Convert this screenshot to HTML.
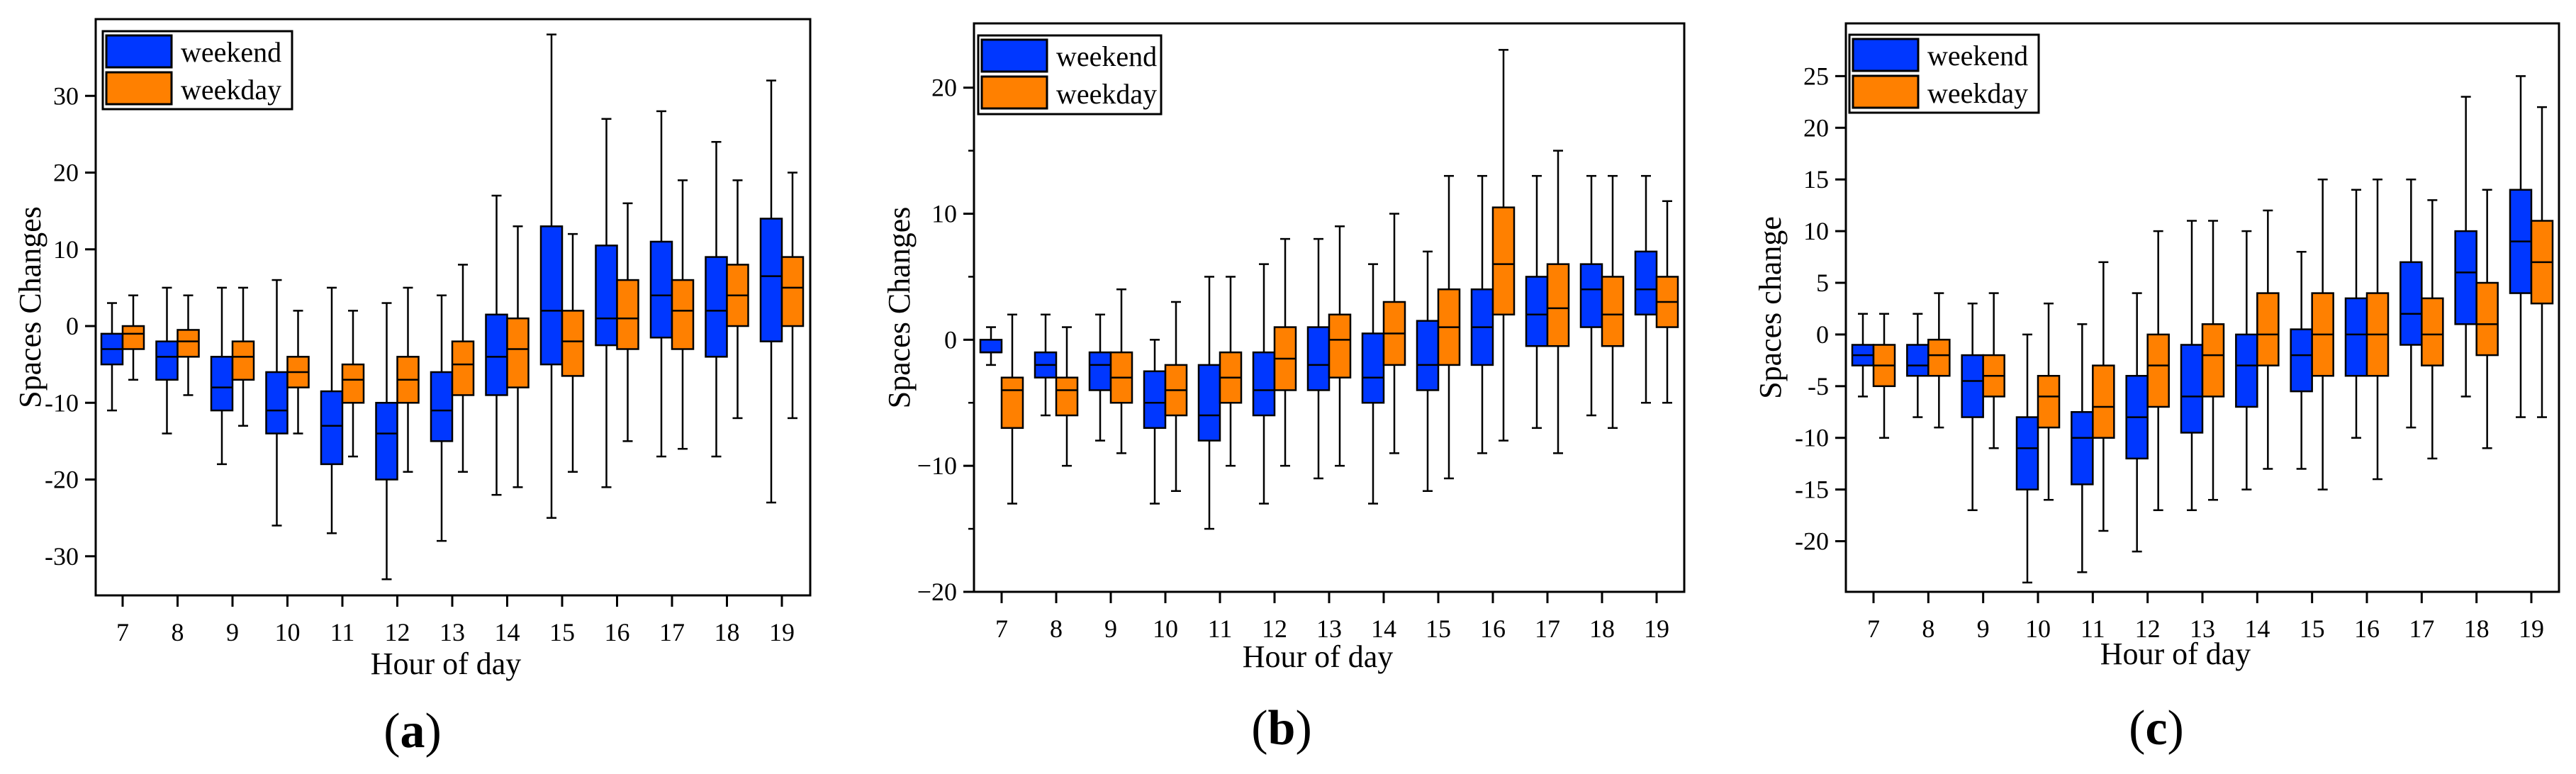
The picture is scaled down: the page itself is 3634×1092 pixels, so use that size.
<!DOCTYPE html>
<html><head><meta charset="utf-8"><style>
html,body{margin:0;padding:0;background:#fff}
svg{display:block}
text{font-family:"Liberation Serif",serif;fill:#000}
</style></head><body>
<svg id="fig" width="3634" height="1092" viewBox="0 0 3634 1092" xmlns="http://www.w3.org/2000/svg"></svg>
<script>
const hours = [7,8,9,10,11,12,13,14,15,16,17,18,19];
// panel a : [whiskerHigh, q3, median, q1, whiskerLow]
const aWeekend = [[3,-1,-3,-5,-11],[5,-2,-4,-7,-14],[5,-4,-8,-11,-18],[6,-6,-11,-14,-26],[5,-8.5,-13,-18,-27],[3,-10,-14,-20,-33],[4,-6,-11,-15,-28],[17,1.5,-4,-9,-22],[38,13,2,-5,-25],[27,10.5,1,-2.5,-21],[28,11,4,-1.5,-17],[24,9,2,-4,-17],[32,14,6.5,-2,-23]];
const aWeekday = [[4,0,-1,-3,-7],[4,-0.5,-2,-4,-9],[5,-2,-4,-7,-13],[2,-4,-6,-8,-14],[2,-5,-7,-10,-17],[5,-4,-7,-10,-19],[8,-2,-5,-9,-19],[13,1,-3,-8,-21],[12,2,-2,-6.5,-19],[16,6,1,-3,-15],[19,6,2,-3,-16],[19,8,4,0,-12],[20,9,5,0,-12]];
const bWeekend = [[1,0,-1,-1,-2],[2,-1,-2,-3,-6],[2,-1,-2,-4,-8],[0,-2.5,-5,-7,-13],[5,-2,-6,-8,-15],[6,-1,-4,-6,-13],[8,1,-2,-4,-11],[6,0.5,-3,-5,-13],[7,1.5,-2,-4,-12],[13,4,1,-2,-9],[13,5,2,-0.5,-7],[13,6,4,1,-6],[13,7,4,2,-5]];
const bWeekday = [[2,-3,-4,-7,-13],[1,-3,-4,-6,-10],[4,-1,-3,-5,-9],[3,-2,-4,-6,-12],[5,-1,-3,-5,-10],[8,1,-1.5,-4,-10],[9,2,0,-3,-10],[10,3,0.5,-2,-9],[13,4,1,-2,-11],[23,10.5,6,2,-8],[15,6,2.5,-0.5,-9],[13,5,2,-0.5,-7],[11,5,3,1,-5]];
const cWeekend = [[2,-1,-2,-3,-6],[2,-1,-3,-4,-8],[3,-2,-4.5,-8,-17],[0,-8,-11,-15,-24],[1,-7.5,-10,-14.5,-23],[4,-4,-8,-12,-21],[11,-1,-6,-9.5,-17],[10,0,-3,-7,-15],[8,0.5,-2,-5.5,-13],[14,3.5,0,-4,-10],[15,7,2,-1,-9],[23,10,6,1,-6],[25,14,9,4,-8]];
const cWeekday = [[2,-1,-3,-5,-10],[4,-0.5,-2,-4,-9],[4,-2,-4,-6,-11],[3,-4,-6,-9,-16],[7,-3,-7,-10,-19],[10,0,-3,-7,-17],[11,1,-2,-6,-16],[12,4,0,-3,-13],[15,4,0,-4,-15],[15,4,0,-4,-14],[13,3.5,0,-3,-12],[14,5,1,-2,-11],[22,11,7,3,-8]];
const aTicks = [-30,-20,-10,0,10,20,30];
const bTicks = [-20,-10,0,10,20];
const bMinor = [-15,-5,5,15];
const cTicks = [-20,-15,-10,-5,0,5,10,15,20,25];

const NS="http://www.w3.org/2000/svg";
const svg=document.getElementById('fig');
function el(tag,attrs,parent,txt){const e=document.createElementNS(NS,tag);for(const k in attrs)e.setAttribute(k,attrs[k]);if(txt!==undefined)e.textContent=txt;(parent||svg).appendChild(e);return e;}

const panels=[
 {id:'a',L:135,R:1143,T:27,B:840,ymin:-35.1,ymax:40,x7:173,x19:1103,ticks:aTicks,minor:[],wk:aWeekend,wd:aWeekday,ytitle:'Spaces Changes',ytx:43,xtx:629,xty:936,lx:582,ly:1030,leg:[145,44,267,110],minusStyle:'-'},
 {id:'b',L:1374,R:2376,T:33,B:835,ymin:-20,ymax:25.1,x7:1413,x19:2337,ticks:bTicks,minor:bMinor,wk:bWeekend,wd:bWeekday,ytitle:'Spaces Changes',ytx:1269,xtx:1859,xty:926,lx:1808,ly:1026,leg:[1380,50,258,111],minusStyle:'\u2212'},
 {id:'c',L:2604,R:3610,T:33,B:835,ymin:-24.9,ymax:30.1,x7:2643,x19:3571,ticks:cTicks,minor:[],wk:cWeekend,wd:cWeekday,ytitle:'Spaces change',ytx:2498,xtx:3069,xty:922,lx:3042,ly:1026,leg:[2609,49,267,110],minusStyle:'-'}
];
const BLUE='#0037ff', ORANGE='#ff8000';
panels.forEach(p=>{
  const g=el('g',{});
  
  
  const y=v=>p.B-(v-p.ymin)/(p.ymax-p.ymin)*(p.B-p.T);
  const x=i=>p.x7+(p.x19-p.x7)*(i)/(hours.length-1);
  // frame
  const fr=el('rect',{x:p.L,y:p.T,width:p.R-p.L,height:p.B-p.T,fill:'none',stroke:'#000','stroke-width':3},g);
  
  
  // y ticks
  p.ticks.forEach(t=>{
    el('line',{x1:p.L-15,x2:p.L,y1:y(t),y2:y(t),stroke:'#000','stroke-width':3},g);
    const lab=el('text',{x:p.L-24,y:y(t)+12,'font-size':36,'text-anchor':'end'},g,(t<0?p.minusStyle+Math.abs(t):String(t)));
    
    
  });
  p.minor.forEach(t=>{el('line',{x1:p.L-8,x2:p.L,y1:y(t),y2:y(t),stroke:'#000','stroke-width':2.5},g);});
  // x ticks
  hours.forEach((h,i)=>{
    el('line',{x1:x(i),x2:x(i),y1:p.B,y2:p.B+16,stroke:'#000','stroke-width':3},g);
    const lab=el('text',{x:x(i),y:p.B+64,'font-size':36,'text-anchor':'middle'},g,String(h));
    
    
  });
  // boxes
  const W=30;
  [[p.wk,BLUE,-W,'weekend'],[p.wd,ORANGE,0,'weekday']].forEach(([data,col,off,nm])=>{
    data.forEach((d,i)=>{
      const x0=x(i)+off, cx=x0+W/2;
      const bg=el('g',{},g);
      
      
      el('line',{x1:cx,x2:cx,y1:y(d[0]),y2:y(d[4]),stroke:'#000','stroke-width':2.5},bg);
      el('line',{x1:cx-7,x2:cx+7,y1:y(d[0]),y2:y(d[0]),stroke:'#000','stroke-width':2.5},bg);
      el('line',{x1:cx-7,x2:cx+7,y1:y(d[4]),y2:y(d[4]),stroke:'#000','stroke-width':2.5},bg);
      el('rect',{x:x0,y:y(d[1]),width:W,height:Math.max(1,y(d[3])-y(d[1])),fill:col,stroke:'#000','stroke-width':2.5},bg);
      el('line',{x1:x0,x2:x0+W,y1:y(d[2]),y2:y(d[2]),stroke:'#000','stroke-width':2.5},bg);
    });
  });
  // legend
  const [lx,ly,lw,lh]=p.leg;
  const lg=el('g',{},g);
  
  
  el('rect',{x:lx,y:ly,width:lw,height:lh,fill:'#fff',stroke:'#000','stroke-width':3},lg);
  const e1=el('g',{},lg);
  
  
  el('rect',{x:lx+5,y:ly+6,width:92,height:45,fill:BLUE,stroke:'#000','stroke-width':3},e1);
  el('text',{x:lx+110,y:ly+43,'font-size':40},e1,'weekend');
  const e2=el('g',{},lg);
  
  
  el('rect',{x:lx+5,y:ly+58,width:92,height:45,fill:ORANGE,stroke:'#000','stroke-width':3},e2);
  el('text',{x:lx+110,y:ly+96,'font-size':40},e2,'weekday');
  // titles
  const yt=el('text',{x:p.ytx+14,y:(p.T+p.B)/2,'font-size':44,'text-anchor':'middle',transform:`rotate(-90 ${p.ytx+14} ${(p.T+p.B)/2})`},g,p.ytitle);
  
  
  const xt=el('text',{x:p.xtx,y:p.xty+15,'font-size':44,'text-anchor':'middle'},g,'Hour of day');
  
  
  const pl=el('text',{x:p.lx,y:p.ly+24,'font-size':70,'text-anchor':'middle'},g);
  
  
  el('tspan',{},pl,'(');
  el('tspan',{'font-weight':'bold'},pl,p.id);
  el('tspan',{},pl,')');
});
</script>
</body></html>
